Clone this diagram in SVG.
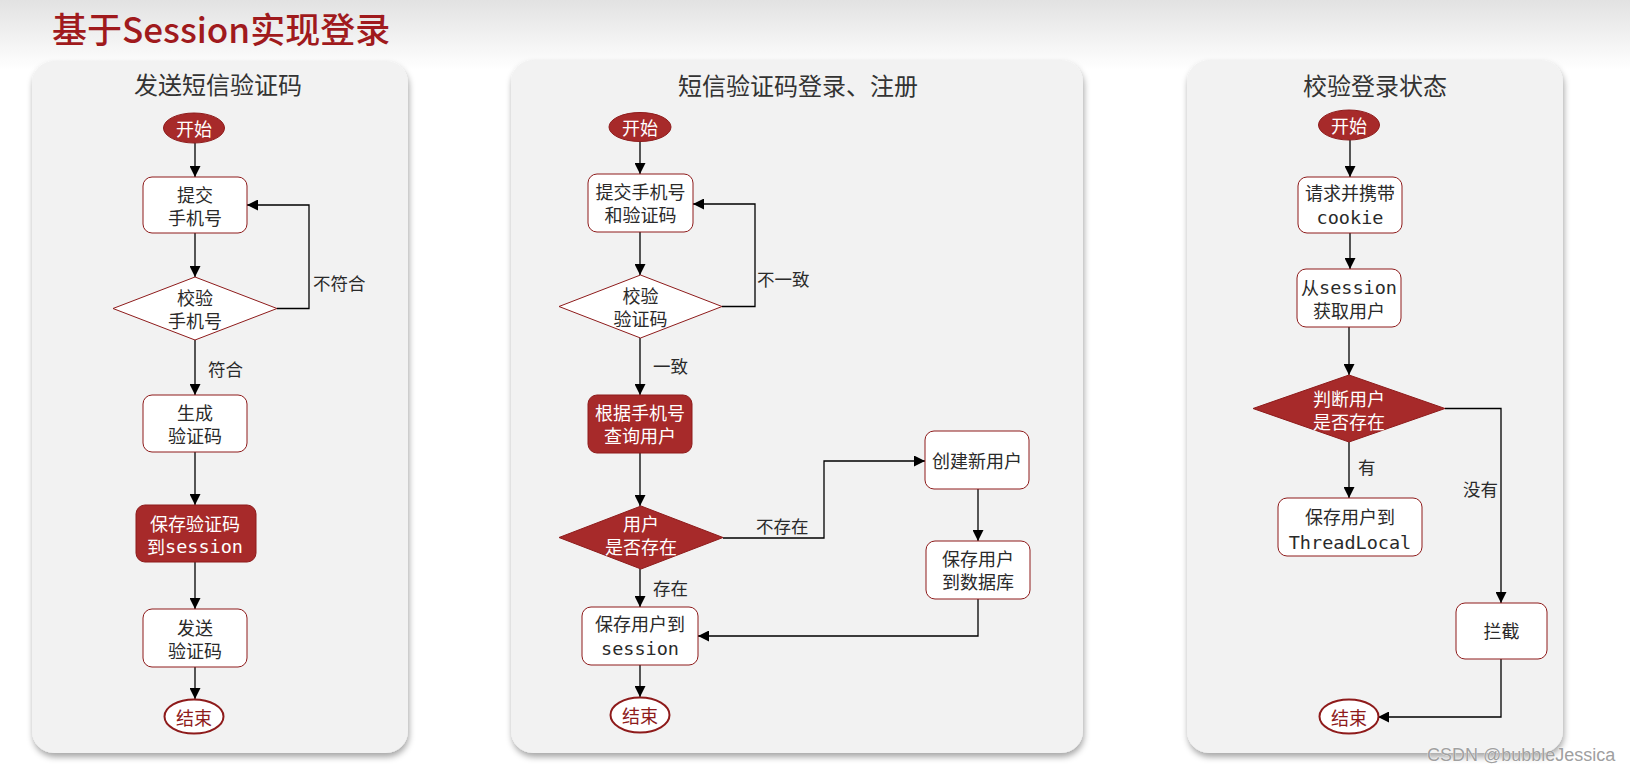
<svg xmlns="http://www.w3.org/2000/svg" width="1630" height="771" viewBox="0 0 1630 771">
  <defs>
    <linearGradient id="topFade" x1="0" y1="0" x2="0" y2="1">
      <stop offset="0" stop-color="#e2e2e2"/>
      <stop offset="1" stop-color="#ffffff"/>
    </linearGradient>
    <filter id="panelShadow" x="-5%" y="-5%" width="110%" height="110%">
      <feDropShadow dx="1" dy="4" stdDeviation="3" flood-color="#000" flood-opacity="0.35"/>
    </filter>
    <marker id="arrow" viewBox="0 0 10 10" refX="10" refY="5" markerWidth="11" markerHeight="11" markerUnits="userSpaceOnUse" orient="auto">
      <path d="M0,0 L10,5 L0,10 Z" fill="#000"/>
    </marker>
  </defs>
  <style>
    .panel { fill: #f2f2f2; filter: url(#panelShadow); }
    .ptitle { font-family: "Noto Sans CJK SC", "Noto Sans", sans-serif; font-size: 24px; fill: #333; text-anchor: middle; dominant-baseline: central; }
    .box { fill: #ffffff; stroke: #8e1b1b; stroke-width: 1; }
    .boxRed { fill: #a72a2a; stroke: #8e1b1b; stroke-width: 1; }
    .start { fill: #a72a2a; stroke: #8e1b1b; stroke-width: 1; }
    .end { fill: #ffffff; stroke: #8e1b1b; stroke-width: 2; }
    .t { font-family: "Noto Sans CJK SC", "Noto Sans", sans-serif; font-size: 18px; fill: #2a2a2a; text-anchor: middle; dominant-baseline: central; }
    .tw { fill: #ffffff; }
    .tend { fill: #8e1b1b; }
    .mono { font-family: "DejaVu Sans Mono", "Liberation Mono", monospace; font-size: 18.5px; }
    .lbl { font-family: "Noto Sans CJK SC", "Noto Sans", sans-serif; font-size: 17.5px; fill: #2a2a2a; dominant-baseline: central; }
    .edge { fill: none; stroke: #000; stroke-width: 1.3; }
    .edge.arr { marker-end: url(#arrow); }
  </style>

  <!-- page background -->
  <rect x="0" y="0" width="1630" height="771" fill="#ffffff"/>
  <rect x="0" y="0" width="1630" height="70" fill="url(#topFade)"/>

  <!-- heading -->
  <text x="52" y="43" font-family="Noto Sans CJK SC, Noto Sans, sans-serif" font-size="35" font-weight="500" fill="#a01a1d">基于Session实现登录</text>

  <!-- panels -->
  <g id="panel-send-code">
    <rect class="panel" x="32" y="61" width="376" height="692" rx="22"/>
    <text class="ptitle" x="218" y="83">发送短信验证码</text>
  </g>
  <g id="panel-login">
    <rect class="panel" x="511" y="60" width="572" height="693" rx="22"/>
    <text class="ptitle" x="798" y="84">短信验证码登录、注册</text>
  </g>
  <g id="panel-check">
    <rect class="panel" x="1187" y="60" width="376" height="693" rx="22"/>
    <text class="ptitle" x="1375" y="84">校验登录状态</text>
  </g>

  <!-- connectors -->
  <g id="connectors">
    <!-- flow 1 -->
    <path class="edge arr" d="M195,143 V177"/>
    <path class="edge arr" d="M195,233 V277"/>
    <path class="edge arr" d="M277,308.5 H309 V205 H247"/>
    <path class="edge arr" d="M195,340 V395"/>
    <path class="edge arr" d="M195,452 V505"/>
    <path class="edge arr" d="M195,562 V609"/>
    <path class="edge arr" d="M195,667 V699"/>
    <text class="lbl" x="313" y="282">不符合</text>
    <text class="lbl" x="208" y="368">符合</text>

    <!-- flow 2 -->
    <path class="edge arr" d="M640,141 V174"/>
    <path class="edge arr" d="M640,232 V275"/>
    <path class="edge arr" d="M722,306.5 H755 V204 H693"/>
    <path class="edge arr" d="M640,338 V395"/>
    <path class="edge arr" d="M640,453 V506"/>
    <path class="edge arr" d="M723,538 H824 V461 H925"/>
    <path class="edge arr" d="M978,489 V541"/>
    <path class="edge arr" d="M978,599 V636 H698"/>
    <path class="edge arr" d="M640,569 V607"/>
    <path class="edge arr" d="M640,665 V697"/>
    <text class="lbl" x="757" y="278">不一致</text>
    <text class="lbl" x="653" y="365">一致</text>
    <text class="lbl" x="756" y="525">不存在</text>
    <text class="lbl" x="653" y="587">存在</text>

    <!-- flow 3 -->
    <path class="edge arr" d="M1350,140 V177"/>
    <path class="edge arr" d="M1350,233 V269"/>
    <path class="edge arr" d="M1349,327 V375"/>
    <path class="edge arr" d="M1349,442 V498"/>
    <path class="edge arr" d="M1445,408.5 H1501 V603"/>
    <path class="edge arr" d="M1501,659 V717 H1378"/>
    <text class="lbl" x="1358" y="466">有</text>
    <text class="lbl" x="1463" y="488">没有</text>
  </g>

  <!-- flow 1 nodes -->
  <g id="s1-start">
    <ellipse class="start" cx="194" cy="128" rx="30.5" ry="15"/>
    <text class="t tw" x="194" y="128">开始</text>
  </g>
  <g id="s1-submit-phone">
    <rect class="box" x="143" y="177" width="104" height="56" rx="9"/>
    <text class="t" x="195" y="193.5">提交</text>
    <text class="t" x="195" y="216.5">手机号</text>
  </g>
  <g id="s1-check-phone">
    <polygon class="box" points="113,308.5 195,277 277,308.5 195,340"/>
    <text class="t" x="195" y="297">校验</text>
    <text class="t" x="195" y="320">手机号</text>
  </g>
  <g id="s1-generate">
    <rect class="box" x="143" y="395" width="104" height="57" rx="9"/>
    <text class="t" x="195" y="411.5">生成</text>
    <text class="t" x="195" y="434.5">验证码</text>
  </g>
  <g id="s1-save-session">
    <rect class="boxRed" x="136" y="505" width="120" height="57" rx="9"/>
    <text class="t tw" x="195" y="522.5">保存验证码</text>
    <text class="t tw" x="195" y="545.5">到<tspan class="mono">session</tspan></text>
  </g>
  <g id="s1-send">
    <rect class="box" x="143" y="609" width="104" height="58" rx="9"/>
    <text class="t" x="195" y="626.5">发送</text>
    <text class="t" x="195" y="649.5">验证码</text>
  </g>
  <g id="s1-end">
    <ellipse class="end" cx="194" cy="716.5" rx="29.5" ry="17"/>
    <text class="t tend" x="194" y="716.5">结束</text>
  </g>

  <!-- flow 2 nodes -->
  <g id="s2-start">
    <ellipse class="start" cx="640" cy="127" rx="31" ry="14.5"/>
    <text class="t tw" x="640" y="127">开始</text>
  </g>
  <g id="s2-submit">
    <rect class="box" x="588" y="174" width="105" height="58" rx="9"/>
    <text class="t" x="640.5" y="190.5">提交手机号</text>
    <text class="t" x="640.5" y="214">和验证码</text>
  </g>
  <g id="s2-check-code">
    <polygon class="box" points="559,306.5 640.5,275 722,306.5 640.5,338"/>
    <text class="t" x="640.5" y="294.5">校验</text>
    <text class="t" x="640.5" y="317.5">验证码</text>
  </g>
  <g id="s2-query-user">
    <rect class="boxRed" x="588" y="395" width="104" height="58" rx="9"/>
    <text class="t tw" x="640" y="411.5">根据手机号</text>
    <text class="t tw" x="640" y="434.5">查询用户</text>
  </g>
  <g id="s2-user-exists">
    <polygon class="boxRed" points="559,537.5 641,506 723,537.5 641,569"/>
    <text class="t tw" x="641" y="522.5">用户</text>
    <text class="t tw" x="641" y="545.5">是否存在</text>
  </g>
  <g id="s2-create-user">
    <rect class="box" x="925" y="431" width="104" height="58" rx="9"/>
    <text class="t" x="977" y="460">创建新用户</text>
  </g>
  <g id="s2-save-db">
    <rect class="box" x="926" y="541" width="104" height="58" rx="9"/>
    <text class="t" x="978" y="558">保存用户</text>
    <text class="t" x="978" y="581">到数据库</text>
  </g>
  <g id="s2-save-session">
    <rect class="box" x="582" y="607" width="116" height="58" rx="9"/>
    <text class="t" x="640" y="623">保存用户到</text>
    <text class="t mono" x="640" y="648">session</text>
  </g>
  <g id="s2-end">
    <ellipse class="end" cx="640" cy="715" rx="29.5" ry="17.5"/>
    <text class="t tend" x="640" y="715">结束</text>
  </g>

  <!-- flow 3 nodes -->
  <g id="s3-start">
    <ellipse class="start" cx="1349" cy="125" rx="30.5" ry="15"/>
    <text class="t tw" x="1349" y="125">开始</text>
  </g>
  <g id="s3-request">
    <rect class="box" x="1298" y="177" width="104" height="56" rx="9"/>
    <text class="t" x="1350" y="192">请求并携带</text>
    <text class="t mono" x="1350" y="217">cookie</text>
  </g>
  <g id="s3-get-user">
    <rect class="box" x="1297" y="269" width="104" height="58" rx="9"/>
    <text class="t" x="1349" y="287">从<tspan class="mono">session</tspan></text>
    <text class="t" x="1349" y="310">获取用户</text>
  </g>
  <g id="s3-user-exists">
    <polygon class="boxRed" points="1253,408.5 1349,375 1445,408.5 1349,442"/>
    <text class="t tw" x="1349" y="397.5">判断用户</text>
    <text class="t tw" x="1349" y="420.5">是否存在</text>
  </g>
  <g id="s3-save-threadlocal">
    <rect class="box" x="1278" y="498" width="144" height="58" rx="9"/>
    <text class="t" x="1350" y="516">保存用户到</text>
    <text class="t mono" x="1350" y="542">ThreadLocal</text>
  </g>
  <g id="s3-intercept">
    <rect class="box" x="1456" y="603" width="91" height="56" rx="9"/>
    <text class="t" x="1501.5" y="630">拦截</text>
  </g>
  <g id="s3-end">
    <ellipse class="end" cx="1349" cy="716.5" rx="29.5" ry="17"/>
    <text class="t tend" x="1349" y="716.5">结束</text>
  </g>

  <!-- watermark -->
  <text x="1427" y="761" font-family="Liberation Sans, Arial, sans-serif" font-size="18" fill="#a0a0a0" stroke="#ffffff" stroke-width="0.6" paint-order="stroke">CSDN @bubbleJessica</text>
</svg>
